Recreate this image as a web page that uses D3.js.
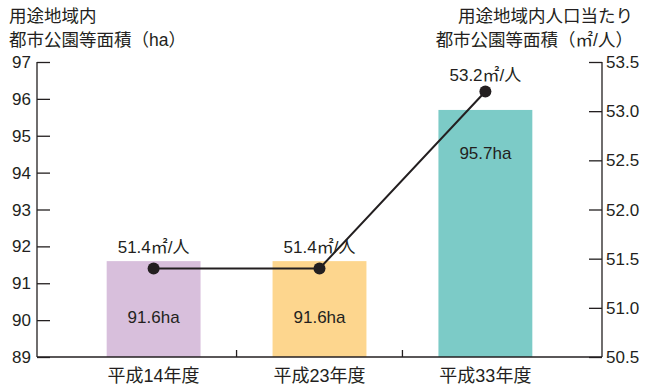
<!DOCTYPE html>
<html>
<head>
<meta charset="utf-8">
<script src="https://cdn.jsdelivr.net/npm/d3@7"></script>
<style>
  body { margin: 0; background: #fff; }
  text { font-family: "Liberation Sans", "Noto Sans CJK JP", sans-serif; fill: #231f20; }
</style>
</head>
<body>
<script>
const categories = ["平成14年度", "平成23年度", "平成33年度"];
const areaValues = [91.6, 91.6, 95.7];
const perCapita = [51.4, 51.4, 53.2];
const barColors = ["#d8bfdc", "#fdd68e", "#7ccbc7"];
const leftTicks = [89, 90, 91, 92, 93, 94, 95, 96, 97];
const rightTicks = [50.5, 51.0, 51.5, 52.0, 52.5, 53.0, 53.5];

const width = 648, height = 387;
const plotLeft = 37, plotRight = 602, plotTop = 62, plotBottom = 357;

const svg = d3.create("svg")
    .attr("width", width)
    .attr("height", height);
document.body.appendChild(svg.node());

const x = d3.scaleBand()
    .domain(categories)
    .range([plotLeft, plotRight])
    .paddingOuter(0.42)
    .paddingInner(0.434);

const yL = d3.scaleLinear().domain([89, 97]).range([plotBottom, plotTop]);
const yR = d3.scaleLinear().domain([50.5, 53.5]).range([plotBottom, plotTop]);

// bars
svg.append("g")
    .selectAll("rect")
    .data(categories)
    .join("rect")
    .attr("x", d => x(d))
    .attr("y", (d, i) => yL(areaValues[i]))
    .attr("width", x.bandwidth())
    .attr("height", (d, i) => plotBottom - yL(areaValues[i]))
    .attr("fill", (d, i) => barColors[i]);

// bar labels (placed a fixed distance below bar top)
const labelOffset = [62, 62, 49];
svg.append("g")
    .selectAll("text")
    .data(categories)
    .join("text")
    .attr("x", d => x(d) + x.bandwidth() / 2)
    .attr("y", (d, i) => yL(areaValues[i]) + labelOffset[i])
    .attr("text-anchor", "middle")
    .attr("font-size", 17)
    .text((d, i) => areaValues[i].toFixed(1) + "ha");

// axes
const axisL = svg.append("g")
    .attr("transform", `translate(${plotLeft},0)`)
    .call(d3.axisRight(yL).tickValues(leftTicks).tickSize(13).tickFormat(""));
const axisR = svg.append("g")
    .attr("transform", `translate(${plotRight},0)`)
    .call(d3.axisLeft(yR).tickValues(rightTicks).tickSize(13).tickFormat(""));
[axisL, axisR].forEach(a => {
    a.select(".domain").remove();
    a.selectAll("line").attr("stroke", "#231f20").attr("stroke-width", 1.3);
});

svg.append("line")
    .attr("x1", plotLeft).attr("x2", plotLeft).attr("y1", plotTop).attr("y2", plotBottom)
    .attr("stroke", "#231f20").attr("stroke-width", 1.3);
svg.append("line")
    .attr("x1", plotRight).attr("x2", plotRight).attr("y1", plotTop).attr("y2", plotBottom)
    .attr("stroke", "#231f20").attr("stroke-width", 1.3);
svg.append("line")
    .attr("x1", plotLeft).attr("x2", plotRight).attr("y1", plotBottom).attr("y2", plotBottom)
    .attr("stroke", "#231f20").attr("stroke-width", 1.5);

// category separator ticks
svg.append("g")
    .selectAll("line")
    .data(categories.slice(1))
    .join("line")
    .attr("x1", d => x(d) - x.step() * x.paddingInner() / 2)
    .attr("x2", d => x(d) - x.step() * x.paddingInner() / 2)
    .attr("y1", plotBottom)
    .attr("y2", plotBottom - 7)
    .attr("stroke", "#231f20").attr("stroke-width", 1.3);

// tick labels
svg.append("g")
    .selectAll("text")
    .data(leftTicks)
    .join("text")
    .attr("x", 31)
    .attr("y", d => yL(d) + 6)
    .attr("text-anchor", "end")
    .attr("font-size", 17)
    .text(d => d);

svg.append("g")
    .selectAll("text")
    .data(rightTicks)
    .join("text")
    .attr("x", 606)
    .attr("y", d => yR(d) + 6)
    .attr("font-size", 17)
    .text(d => d.toFixed(1));

svg.append("g")
    .selectAll("text")
    .data(categories)
    .join("text")
    .attr("x", d => x(d) + x.bandwidth() / 2)
    .attr("y", 382)
    .attr("text-anchor", "middle")
    .attr("font-size", 18)
    .text(d => d);

// line series
const line = d3.line()
    .x((d, i) => x(categories[i]) + x.bandwidth() / 2)
    .y(d => yR(d));

svg.append("path")
    .datum(perCapita)
    .attr("d", line)
    .attr("fill", "none")
    .attr("stroke", "#231f20")
    .attr("stroke-width", 2);

svg.append("g")
    .selectAll("circle")
    .data(perCapita)
    .join("circle")
    .attr("cx", (d, i) => x(categories[i]) + x.bandwidth() / 2)
    .attr("cy", d => yR(d))
    .attr("r", 6)
    .attr("fill", "#231f20");

const dotLabelOffset = [16, 16, 11];
svg.append("g")
    .selectAll("text")
    .data(perCapita)
    .join("text")
    .attr("x", (d, i) => x(categories[i]) + x.bandwidth() / 2)
    .attr("y", (d, i) => yR(d) - dotLabelOffset[i])
    .attr("text-anchor", "middle")
    .attr("font-size", 17)
    .text(d => d.toFixed(1) + "㎡/人");

// axis titles
svg.append("text").attr("x", 9).attr("y", 22).attr("font-size", 17.5).text("用途地域内");
svg.append("text").attr("x", 9).attr("y", 46).attr("font-size", 17.5).text("都市公園等面積（ha）");
svg.append("text").attr("x", 633).attr("y", 22).attr("text-anchor", "end").attr("font-size", 17.5).text("用途地域内人口当たり");
svg.append("text").attr("x", 633).attr("y", 46).attr("text-anchor", "end").attr("font-size", 17.5).text("都市公園等面積（㎡/人）");
</script>
</body>
</html>
